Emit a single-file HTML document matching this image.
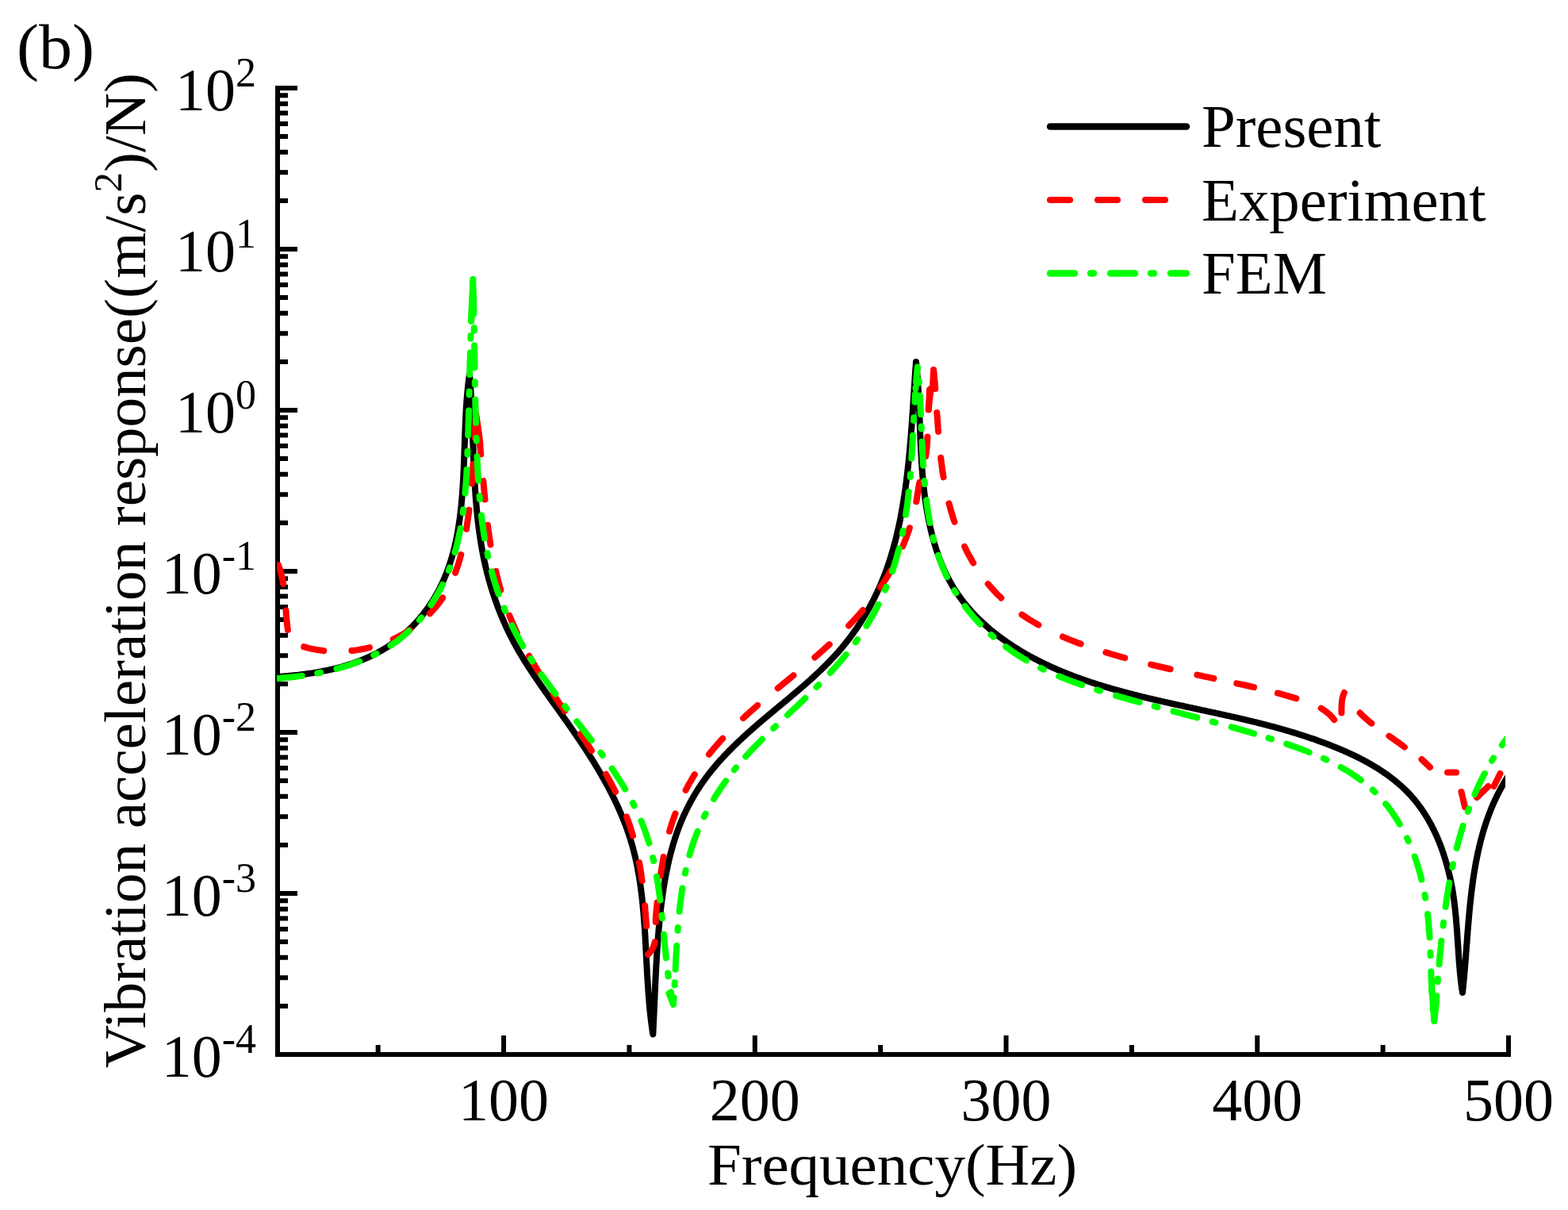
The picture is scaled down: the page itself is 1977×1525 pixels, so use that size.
<!DOCTYPE html>
<html><head><meta charset="utf-8"><title>FRF</title>
<style>html,body{margin:0;padding:0;background:#fff;overflow:hidden}svg{display:block}</style>
</head><body>
<svg width="1977" height="1525" viewBox="0 0 1977 1525">
<rect width="1977" height="1525" fill="#fff"/>
<path d="M350 108 V1329 H1905" fill="none" stroke="#000" stroke-width="6" stroke-linejoin="miter" stroke-linecap="butt"/>
<path d="M350 111.00H375M350 252.89H363M350 217.14H363M350 191.78H363M350 172.11H363M350 156.04H363M350 142.45H363M350 130.67H363M350 120.29H363M350 314.00H375M350 455.89H363M350 420.14H363M350 394.78H363M350 375.11H363M350 359.04H363M350 345.45H363M350 333.67H363M350 323.29H363M350 517.00H375M350 658.89H363M350 623.14H363M350 597.78H363M350 578.11H363M350 562.04H363M350 548.45H363M350 536.67H363M350 526.29H363M350 720.00H375M350 861.89H363M350 826.14H363M350 800.78H363M350 781.11H363M350 765.04H363M350 751.45H363M350 739.67H363M350 729.29H363M350 923.00H375M350 1064.89H363M350 1029.14H363M350 1003.78H363M350 984.11H363M350 968.04H363M350 954.45H363M350 942.67H363M350 932.29H363M350 1126.00H375M350 1267.89H363M350 1232.14H363M350 1206.78H363M350 1187.11H363M350 1171.04H363M350 1157.45H363M350 1145.67H363M350 1135.29H363M350 1329.00H375M635.06 1329V1305M951.80 1329V1305M1268.53 1329V1305M1585.27 1329V1305M1902.00 1329V1305M476.69 1329V1317M793.43 1329V1317M1110.16 1329V1317M1426.90 1329V1317M1743.63 1329V1317" fill="none" stroke="#000" stroke-width="6"/>
<text x="323" y="139.0" text-anchor="end" font-family="Liberation Serif, Times New Roman, serif" font-size="76">10<tspan font-size="52" dy="-30.5">2</tspan></text>
<text x="323" y="342.0" text-anchor="end" font-family="Liberation Serif, Times New Roman, serif" font-size="76">10<tspan font-size="52" dy="-30.5">1</tspan></text>
<text x="323" y="545.0" text-anchor="end" font-family="Liberation Serif, Times New Roman, serif" font-size="76">10<tspan font-size="52" dy="-30.5">0</tspan></text>
<text x="323" y="748.0" text-anchor="end" font-family="Liberation Serif, Times New Roman, serif" font-size="76">10<tspan font-size="52" dy="-30.5">-1</tspan></text>
<text x="323" y="951.0" text-anchor="end" font-family="Liberation Serif, Times New Roman, serif" font-size="76">10<tspan font-size="52" dy="-30.5">-2</tspan></text>
<text x="323" y="1154.0" text-anchor="end" font-family="Liberation Serif, Times New Roman, serif" font-size="76">10<tspan font-size="52" dy="-30.5">-3</tspan></text>
<text x="323" y="1357.0" text-anchor="end" font-family="Liberation Serif, Times New Roman, serif" font-size="76">10<tspan font-size="52" dy="-30.5">-4</tspan></text>
<text x="635.06" y="1412" text-anchor="middle" font-family="Liberation Serif, Times New Roman, serif" font-size="76">100</text>
<text x="951.80" y="1412" text-anchor="middle" font-family="Liberation Serif, Times New Roman, serif" font-size="76">200</text>
<text x="1268.53" y="1412" text-anchor="middle" font-family="Liberation Serif, Times New Roman, serif" font-size="76">300</text>
<text x="1585.27" y="1412" text-anchor="middle" font-family="Liberation Serif, Times New Roman, serif" font-size="76">400</text>
<text x="1902.00" y="1412" text-anchor="middle" font-family="Liberation Serif, Times New Roman, serif" font-size="76">500</text>
<text transform="translate(1125 1493) scale(1.027 1)" text-anchor="middle" font-family="Liberation Serif, Times New Roman, serif" font-size="75">Frequency(Hz)</text>
<text transform="translate(183 1346) rotate(-90)" x="0" y="0" font-family="Liberation Serif, Times New Roman, serif" font-size="75">Vibration acceleration response((m/s<tspan font-size="51" dy="-30">2</tspan><tspan dy="30">)/N)</tspan></text>
<text transform="translate(21 86) scale(1.038 1)" font-family="Liberation Serif, Times New Roman, serif" font-size="81">(b)</text>
<path d="M1324 159.5H1496" stroke="#000" stroke-width="8.5" stroke-linecap="round"/>
<path d="M1324 252H1500" stroke="#f00" stroke-width="8" stroke-linecap="round" stroke-dasharray="25 35"/>
<path d="M1324 344.6H1496" stroke="#0f0" stroke-width="8.5" stroke-linecap="round" stroke-dasharray="31 20 4 21"/>
<text transform="translate(1515 185) scale(1.018 1)" font-family="Liberation Serif, Times New Roman, serif" font-size="75.5">Present</text>
<text transform="translate(1515 277.8) scale(1.018 1)" font-family="Liberation Serif, Times New Roman, serif" font-size="75.5">Experiment</text>
<text transform="translate(1515 370.4) scale(1.018 1)" font-family="Liberation Serif, Times New Roman, serif" font-size="75.5">FEM</text>
<defs><clipPath id="pc"><rect x="349" y="100" width="1549" height="1232"/></clipPath></defs>
<g clip-path="url(#pc)" fill="none" stroke-width="8" stroke-linejoin="round">
<path d="M350.0 853.0L351.5 852.9L352.9 852.8L354.4 852.7L355.8 852.6L357.3 852.5L358.8 852.3L360.2 852.2L361.7 852.1L363.2 852.0L364.7 851.8L366.1 851.7L367.6 851.5L369.1 851.4L370.6 851.2L372.1 851.1L373.6 850.9L375.1 850.8L376.6 850.6L378.1 850.4L379.6 850.2L381.0 850.0L382.5 849.9L384.0 849.7L385.5 849.5L387.0 849.2L388.6 849.0L390.1 848.8L391.6 848.6L393.1 848.4L394.6 848.1L396.1 847.9L397.6 847.6L399.1 847.4L400.6 847.1L402.1 846.8L403.6 846.6L405.1 846.3L406.6 846.0L408.1 845.7L409.6 845.4L411.1 845.1L412.6 844.8L414.1 844.5L415.6 844.1L417.1 843.8L418.6 843.5L420.0 843.1L421.5 842.8L423.0 842.4L424.5 842.0L426.0 841.6L427.5 841.3L428.9 840.9L430.4 840.5L431.9 840.1L433.4 839.6L434.8 839.2L436.3 838.8L437.7 838.3L439.2 837.9L440.7 837.4L442.1 836.9L443.6 836.5L445.0 836.0L446.4 835.5L447.9 835.0L449.3 834.5L450.7 833.9L452.2 833.4L453.6 832.9L455.0 832.3L456.4 831.8L457.8 831.2L459.2 830.6L460.6 830.0L462.0 829.4L463.4 828.8L464.8 828.2L466.1 827.6L467.5 826.9L468.9 826.3L470.2 825.6L471.6 825.0L472.9 824.3L474.3 823.6L475.6 822.9L476.9 822.2L478.2 821.4L479.6 820.7L480.9 820.0L482.2 819.2L483.5 818.4L484.7 817.7L486.0 816.9L487.3 816.1L488.6 815.3L489.8 814.4L491.1 813.6L492.3 812.8L493.6 811.9L494.8 811.1L496.0 810.2L497.2 809.3L498.4 808.4L499.6 807.5L500.8 806.6L502.0 805.6L503.2 804.7L504.4 803.8L505.5 802.8L506.7 801.8L507.8 800.9L509.0 799.9L510.1 798.9L511.2 797.9L512.3 796.9L513.4 795.9L514.5 794.8L515.6 793.8L516.7 792.8L517.8 791.7L518.8 790.6L519.9 789.6L520.9 788.5L522.0 787.4L523.0 786.3L524.0 785.2L525.0 784.1L526.0 783.0L527.0 781.9L528.0 780.7L529.0 779.6L529.9 778.4L530.9 777.3L531.9 776.1L532.8 775.0L533.7 773.8L534.6 772.6L535.6 771.4L536.5 770.2L537.4 769.0L538.2 767.8L539.1 766.6L540.0 765.4L540.8 764.1L541.7 762.9L542.5 761.7L543.3 760.4L544.2 759.2L545.0 757.9L545.8 756.7L546.5 755.4L547.3 754.1L548.1 752.9L548.8 751.6L549.6 750.3L550.3 749.0L551.1 747.7L551.8 746.4L552.5 745.1L553.2 743.8L553.9 742.5L554.5 741.2L555.2 739.8L555.8 738.5L556.5 737.2L557.1 735.9L557.7 734.5L558.4 733.2L559.0 731.8L559.6 730.5L560.1 729.1L560.7 727.8L561.3 726.4L561.8 725.0L562.4 723.7L562.9 722.3L563.5 720.9L564.0 719.5L564.5 718.2L565.0 716.8L565.5 715.4L566.0 714.0L566.5 712.6L566.9 711.2L567.4 709.8L567.8 708.4L568.3 707.0L568.7 705.6L569.1 704.1L569.6 702.7L570.0 701.3L570.4 699.9L570.8 698.4L571.2 697.0L571.6 695.6L571.9 694.1L572.3 692.7L572.7 691.2L573.0 689.8L573.4 688.4L573.7 686.9L574.0 685.4L574.4 684.0L574.7 682.5L575.0 681.1L575.3 679.6L575.6 678.1L575.9 676.7L576.2 675.2L576.5 673.7L576.7 672.2L577.0 670.8L577.3 669.3L577.5 667.8L577.8 666.3L578.0 664.8L578.2 663.3L578.5 661.8L578.7 660.3L578.9 658.8L579.1 657.3L579.4 655.8L579.6 654.3L579.8 652.8L580.0 651.3L580.2 649.8L580.3 648.3L580.5 646.8L580.7 645.3L580.9 643.8L581.0 642.3L581.2 640.8L581.4 639.2L581.5 637.7L581.7 636.2L581.8 634.7L582.0 633.2L582.1 631.6L582.2 630.1L582.4 628.6L582.5 627.1L582.6 625.5L582.8 624.0L582.9 622.5L583.0 620.9L583.1 619.4L583.2 617.9L583.3 616.3L583.4 614.8L583.5 613.3L583.6 611.7L583.7 610.2L583.8 608.7L583.9 607.1L584.0 605.6L584.1 604.0L584.1 602.5L584.2 601.0L584.3 599.4L584.4 597.9L584.4 596.3L584.5 594.8L584.6 593.3L584.7 591.7L584.7 590.2L584.8 588.6L584.8 587.1L584.9 585.6L585.0 584.0L585.0 582.5L585.1 580.9L585.1 579.4L585.2 577.9L585.3 576.3L585.3 574.8L585.4 573.2L585.4 571.7L585.5 570.2L585.5 568.6L585.6 567.1L585.6 565.5L585.7 564.0L585.7 562.5L585.8 560.9L585.8 559.4L585.9 557.9L585.9 556.3L586.0 554.8L586.0 553.3L586.1 551.7L586.2 550.2L586.2 548.7L586.3 547.1L586.3 545.6L586.4 544.1L586.4 542.6L586.5 541.0L586.6 539.5L586.6 538.0L586.7 536.5L586.7 535.0L586.8 533.4L586.9 531.9L586.9 530.4L587.0 528.9L587.1 527.4L587.2 525.9L587.2 524.4L587.3 522.9L587.4 521.4L587.5 519.9L587.6 518.4L587.6 516.9L587.7 515.4L587.8 513.9L587.9 512.4L588.0 510.9L588.1 509.4L588.2 507.9L588.3 506.4L588.4 504.9L588.6 503.5L588.7 502.0L588.8 500.5L588.9 499.0L589.0 497.5L589.2 496.1L589.3 494.6L589.4 493.1L589.6 491.7L589.7 490.2L589.9 488.8L590.0 487.3L590.2 485.9L590.3 484.4L590.5 483.0L590.7 481.5L590.9 480.1L591.0 478.6L591.2 477.2L591.4 475.8L591.6 474.4L591.8 472.9L592.0 471.5L592.1 473.0L592.2 474.4L592.4 475.9L592.5 477.4L592.6 478.8L592.7 480.3L592.8 481.8L592.9 483.3L593.0 484.7L593.1 486.2L593.2 487.7L593.3 489.2L593.4 490.6L593.5 492.1L593.6 493.6L593.7 495.1L593.8 496.6L593.8 498.1L593.9 499.5L594.0 501.0L594.1 502.5L594.2 504.0L594.2 505.5L594.3 507.0L594.4 508.5L594.5 510.0L594.5 511.5L594.6 513.0L594.7 514.5L594.7 515.9L594.8 517.4L594.9 518.9L594.9 520.4L595.0 521.9L595.1 523.4L595.1 524.9L595.2 526.4L595.2 527.9L595.3 529.4L595.4 531.0L595.4 532.5L595.5 534.0L595.5 535.5L595.6 537.0L595.6 538.5L595.7 540.0L595.8 541.5L595.8 543.0L595.9 544.5L595.9 546.0L596.0 547.5L596.0 549.0L596.1 550.5L596.1 552.1L596.2 553.6L596.2 555.1L596.3 556.6L596.3 558.1L596.4 559.6L596.5 561.1L596.5 562.6L596.6 564.2L596.6 565.7L596.7 567.2L596.7 568.7L596.8 570.2L596.8 571.7L596.9 573.2L597.0 574.8L597.0 576.3L597.1 577.8L597.1 579.3L597.2 580.8L597.3 582.3L597.3 583.8L597.4 585.4L597.5 586.9L597.5 588.4L597.6 589.9L597.7 591.4L597.7 592.9L597.8 594.5L597.9 596.0L598.0 597.5L598.0 599.0L598.1 600.5L598.2 602.0L598.3 603.6L598.4 605.1L598.4 606.6L598.5 608.1L598.6 609.6L598.7 611.1L598.8 612.6L598.9 614.2L599.0 615.7L599.1 617.2L599.2 618.7L599.3 620.2L599.4 621.7L599.5 623.2L599.6 624.7L599.7 626.3L599.8 627.8L600.0 629.3L600.1 630.8L600.2 632.3L600.3 633.8L600.5 635.3L600.6 636.8L600.7 638.3L600.9 639.8L601.0 641.3L601.1 642.9L601.3 644.4L601.4 645.9L601.6 647.4L601.7 648.9L601.9 650.4L602.0 651.9L602.2 653.4L602.4 654.9L602.5 656.4L602.7 657.9L602.9 659.4L603.1 660.9L603.3 662.4L603.4 663.9L603.6 665.4L603.8 666.9L604.0 668.3L604.2 669.8L604.4 671.3L604.6 672.8L604.9 674.3L605.1 675.8L605.3 677.3L605.5 678.8L605.8 680.3L606.0 681.7L606.2 683.2L606.5 684.7L606.7 686.2L607.0 687.7L607.2 689.2L607.5 690.6L607.7 692.1L608.0 693.6L608.3 695.1L608.6 696.5L608.8 698.0L609.1 699.5L609.4 701.0L609.7 702.4L610.0 703.9L610.3 705.4L610.6 706.8L611.0 708.3L611.3 709.8L611.6 711.2L611.9 712.7L612.3 714.1L612.6 715.6L613.0 717.0L613.3 718.5L613.7 720.0L614.1 721.4L614.4 722.9L614.8 724.3L615.2 725.8L615.6 727.2L616.0 728.6L616.3 730.1L616.7 731.5L617.2 733.0L617.6 734.4L618.0 735.8L618.4 737.3L618.8 738.7L619.3 740.1L619.7 741.6L620.1 743.0L620.6 744.4L621.0 745.8L621.5 747.3L622.0 748.7L622.4 750.1L622.9 751.5L623.4 752.9L623.9 754.3L624.4 755.8L624.9 757.2L625.4 758.6L625.9 760.0L626.4 761.4L626.9 762.8L627.4 764.2L627.9 765.6L628.5 767.0L629.0 768.4L629.6 769.7L630.1 771.1L630.7 772.5L631.2 773.9L631.8 775.3L632.4 776.7L632.9 778.0L633.5 779.4L634.1 780.8L634.7 782.1L635.3 783.5L635.9 784.9L636.5 786.2L637.1 787.6L637.7 789.0L638.3 790.3L639.0 791.7L639.6 793.0L640.3 794.4L640.9 795.7L641.5 797.0L642.2 798.4L642.9 799.7L643.5 801.1L644.2 802.4L644.9 803.7L645.6 805.0L646.3 806.4L646.9 807.7L647.6 809.0L648.3 810.3L649.1 811.6L649.8 812.9L650.5 814.3L651.2 815.6L652.0 816.9L652.7 818.2L653.4 819.5L654.2 820.8L654.9 822.0L655.7 823.3L656.4 824.6L657.2 825.9L658.0 827.2L658.8 828.5L659.5 829.7L660.3 831.0L661.1 832.3L661.9 833.6L662.7 834.8L663.5 836.1L664.3 837.4L665.1 838.6L665.9 839.9L666.7 841.2L667.5 842.4L668.4 843.7L669.2 844.9L670.0 846.2L670.8 847.4L671.7 848.7L672.5 849.9L673.3 851.2L674.2 852.4L675.0 853.7L675.9 854.9L676.7 856.2L677.6 857.4L678.4 858.6L679.3 859.9L680.1 861.1L681.0 862.4L681.9 863.6L682.7 864.8L683.6 866.1L684.5 867.3L685.3 868.5L686.2 869.8L687.1 871.0L687.9 872.2L688.8 873.5L689.7 874.7L690.6 875.9L691.4 877.2L692.3 878.4L693.2 879.6L694.1 880.9L695.0 882.1L695.8 883.3L696.7 884.5L697.6 885.8L698.5 887.0L699.4 888.2L700.2 889.5L701.1 890.7L702.0 891.9L702.9 893.2L703.8 894.4L704.7 895.6L705.5 896.8L706.4 898.1L707.3 899.3L708.2 900.5L709.1 901.8L709.9 903.0L710.8 904.3L711.7 905.5L712.6 906.7L713.4 908.0L714.3 909.2L715.2 910.4L716.1 911.7L716.9 912.9L717.8 914.2L718.7 915.4L719.5 916.6L720.4 917.9L721.3 919.1L722.1 920.4L723.0 921.6L723.8 922.9L724.7 924.1L725.6 925.4L726.4 926.6L727.3 927.9L728.1 929.1L729.0 930.4L729.8 931.6L730.7 932.9L731.5 934.1L732.4 935.4L733.2 936.6L734.0 937.9L734.9 939.2L735.7 940.4L736.5 941.7L737.4 942.9L738.2 944.2L739.0 945.5L739.8 946.7L740.6 948.0L741.5 949.3L742.3 950.5L743.1 951.8L743.9 953.1L744.7 954.3L745.5 955.6L746.3 956.9L747.1 958.2L747.9 959.4L748.7 960.7L749.5 962.0L750.3 963.3L751.0 964.6L751.8 965.8L752.6 967.1L753.4 968.4L754.1 969.7L754.9 971.0L755.7 972.3L756.4 973.6L757.2 974.9L757.9 976.2L758.7 977.5L759.4 978.8L760.2 980.1L760.9 981.4L761.6 982.7L762.4 984.0L763.1 985.3L763.8 986.6L764.5 987.9L765.2 989.2L766.0 990.5L766.7 991.8L767.4 993.1L768.1 994.5L768.8 995.8L769.4 997.1L770.1 998.4L770.8 999.7L771.5 1001.1L772.1 1002.4L772.8 1003.7L773.5 1005.1L774.1 1006.4L774.8 1007.7L775.4 1009.1L776.1 1010.4L776.7 1011.7L777.3 1013.1L778.0 1014.4L778.6 1015.8L779.2 1017.1L779.8 1018.5L780.4 1019.8L781.0 1021.2L781.6 1022.5L782.2 1023.9L782.8 1025.3L783.4 1026.6L783.9 1028.0L784.5 1029.4L785.1 1030.7L785.6 1032.1L786.2 1033.5L786.7 1034.8L787.3 1036.2L787.8 1037.6L788.3 1039.0L788.9 1040.4L789.4 1041.7L789.9 1043.1L790.4 1044.5L790.9 1045.9L791.4 1047.3L791.9 1048.7L792.3 1050.1L792.8 1051.5L793.3 1052.9L793.7 1054.3L794.2 1055.7L794.6 1057.1L795.1 1058.6L795.5 1060.0L795.9 1061.4L796.4 1062.8L796.8 1064.2L797.2 1065.7L797.6 1067.1L798.0 1068.5L798.4 1070.0L798.7 1071.4L799.1 1072.8L799.5 1074.3L799.8 1075.7L800.2 1077.2L800.5 1078.6L800.9 1080.1L801.2 1081.5L801.5 1083.0L801.9 1084.4L802.2 1085.9L802.5 1087.4L802.8 1088.8L803.1 1090.3L803.4 1091.7L803.7 1093.2L804.0 1094.7L804.2 1096.2L804.5 1097.6L804.8 1099.1L805.1 1100.6L805.3 1102.1L805.6 1103.5L805.8 1105.0L806.1 1106.5L806.3 1108.0L806.5 1109.5L806.8 1111.0L807.0 1112.5L807.2 1114.0L807.4 1115.5L807.6 1116.9L807.8 1118.4L808.0 1119.9L808.2 1121.4L808.4 1122.9L808.6 1124.4L808.8 1125.9L809.0 1127.5L809.2 1129.0L809.3 1130.5L809.5 1132.0L809.7 1133.5L809.8 1135.0L810.0 1136.5L810.1 1138.0L810.3 1139.5L810.5 1141.0L810.6 1142.6L810.7 1144.1L810.9 1145.6L811.0 1147.1L811.2 1148.6L811.3 1150.1L811.4 1151.7L811.5 1153.2L811.7 1154.7L811.8 1156.2L811.9 1157.8L812.0 1159.3L812.1 1160.8L812.3 1162.3L812.4 1163.9L812.5 1165.4L812.6 1166.9L812.7 1168.4L812.8 1170.0L812.9 1171.5L813.0 1173.0L813.1 1174.5L813.2 1176.1L813.3 1177.6L813.4 1179.1L813.5 1180.6L813.6 1182.2L813.6 1183.7L813.7 1185.2L813.8 1186.8L813.9 1188.3L814.0 1189.8L814.1 1191.3L814.2 1192.9L814.2 1194.4L814.3 1195.9L814.4 1197.5L814.5 1199.0L814.6 1200.5L814.6 1202.0L814.7 1203.6L814.8 1205.1L814.9 1206.6L815.0 1208.1L815.0 1209.7L815.1 1211.2L815.2 1212.7L815.3 1214.2L815.4 1215.8L815.4 1217.3L815.5 1218.8L815.6 1220.3L815.7 1221.8L815.8 1223.4L815.9 1224.9L815.9 1226.4L816.0 1227.9L816.1 1229.4L816.2 1231.0L816.3 1232.5L816.4 1234.0L816.5 1235.5L816.6 1237.0L816.7 1238.5L816.8 1240.0L816.9 1241.5L817.0 1243.0L817.1 1244.5L817.2 1246.1L817.3 1247.6L817.4 1249.1L817.5 1250.6L817.6 1252.1L817.7 1253.6L817.8 1255.1L817.9 1256.6L818.1 1258.0L818.2 1259.5L818.3 1261.0L818.4 1262.5L818.6 1264.0L818.7 1265.5L818.8 1267.0L819.0 1268.5L819.1 1269.9L819.2 1271.4L819.4 1272.9L819.5 1274.4L819.7 1275.9L819.8 1277.3L820.0 1278.8L820.2 1280.3L820.3 1281.7L820.5 1283.2L820.7 1284.7L820.9 1286.1L821.0 1287.6L821.2 1289.0L821.4 1290.5L821.6 1292.0L821.8 1293.4L822.0 1294.9L822.2 1296.3L822.4 1297.7L822.6 1299.2L822.8 1300.6L823.1 1302.1L823.3 1303.5L823.4 1302.0L823.5 1300.5L823.5 1299.0L823.6 1297.5L823.7 1296.0L823.8 1294.5L823.8 1293.1L823.9 1291.6L824.0 1290.1L824.0 1288.6L824.1 1287.1L824.2 1285.6L824.3 1284.1L824.3 1282.6L824.4 1281.1L824.5 1279.6L824.5 1278.1L824.6 1276.6L824.7 1275.1L824.7 1273.6L824.8 1272.2L824.9 1270.7L824.9 1269.2L825.0 1267.7L825.1 1266.2L825.1 1264.7L825.2 1263.2L825.3 1261.7L825.3 1260.2L825.4 1258.7L825.5 1257.2L825.5 1255.7L825.6 1254.2L825.7 1252.7L825.7 1251.2L825.8 1249.7L825.9 1248.2L825.9 1246.7L826.0 1245.2L826.1 1243.7L826.1 1242.3L826.2 1240.8L826.3 1239.3L826.3 1237.8L826.4 1236.3L826.5 1234.8L826.6 1233.3L826.6 1231.8L826.7 1230.3L826.8 1228.8L826.9 1227.3L826.9 1225.8L827.0 1224.3L827.1 1222.8L827.2 1221.3L827.3 1219.8L827.3 1218.3L827.4 1216.8L827.5 1215.3L827.6 1213.8L827.7 1212.3L827.8 1210.8L827.9 1209.3L827.9 1207.8L828.0 1206.3L828.1 1204.8L828.2 1203.3L828.3 1201.8L828.4 1200.3L828.5 1198.8L828.6 1197.3L828.7 1195.8L828.8 1194.3L828.9 1192.8L829.0 1191.3L829.1 1189.8L829.2 1188.3L829.3 1186.7L829.5 1185.2L829.6 1183.7L829.7 1182.2L829.8 1180.7L829.9 1179.2L830.0 1177.7L830.2 1176.2L830.3 1174.7L830.4 1173.2L830.6 1171.7L830.7 1170.2L830.8 1168.7L831.0 1167.2L831.1 1165.7L831.2 1164.1L831.4 1162.6L831.5 1161.1L831.7 1159.6L831.8 1158.1L832.0 1156.6L832.1 1155.1L832.3 1153.6L832.4 1152.1L832.6 1150.6L832.8 1149.0L832.9 1147.5L833.1 1146.0L833.3 1144.5L833.5 1143.0L833.6 1141.5L833.8 1140.0L834.0 1138.5L834.2 1137.0L834.4 1135.4L834.6 1133.9L834.8 1132.4L835.0 1130.9L835.2 1129.4L835.4 1127.9L835.6 1126.4L835.8 1124.9L836.1 1123.4L836.3 1121.9L836.5 1120.4L836.7 1118.9L837.0 1117.4L837.2 1115.9L837.5 1114.4L837.7 1112.9L838.0 1111.4L838.2 1109.9L838.5 1108.4L838.8 1106.9L839.0 1105.4L839.3 1103.9L839.6 1102.4L839.9 1100.9L840.2 1099.4L840.5 1098.0L840.8 1096.5L841.1 1095.0L841.4 1093.5L841.7 1092.0L842.0 1090.5L842.3 1089.1L842.7 1087.6L843.0 1086.1L843.3 1084.7L843.7 1083.2L844.0 1081.7L844.4 1080.3L844.8 1078.8L845.1 1077.3L845.5 1075.9L845.9 1074.4L846.3 1073.0L846.7 1071.5L847.1 1070.1L847.5 1068.6L847.9 1067.2L848.3 1065.7L848.7 1064.3L849.1 1062.9L849.6 1061.4L850.0 1060.0L850.5 1058.6L850.9 1057.1L851.4 1055.7L851.9 1054.3L852.3 1052.9L852.8 1051.5L853.3 1050.1L853.8 1048.6L854.3 1047.2L854.8 1045.8L855.3 1044.4L855.9 1043.0L856.4 1041.7L856.9 1040.3L857.5 1038.9L858.0 1037.5L858.6 1036.1L859.2 1034.7L859.7 1033.4L860.3 1032.0L860.9 1030.6L861.5 1029.3L862.1 1027.9L862.7 1026.6L863.4 1025.2L864.0 1023.9L864.6 1022.5L865.3 1021.2L865.9 1019.9L866.6 1018.5L867.2 1017.2L867.9 1015.9L868.6 1014.6L869.3 1013.3L870.0 1011.9L870.7 1010.6L871.4 1009.3L872.1 1008.0L872.8 1006.8L873.6 1005.5L874.3 1004.2L875.1 1002.9L875.8 1001.6L876.6 1000.4L877.3 999.1L878.1 997.8L878.9 996.6L879.7 995.3L880.5 994.1L881.3 992.8L882.1 991.6L882.9 990.4L883.7 989.1L884.6 987.9L885.4 986.7L886.3 985.5L887.1 984.3L888.0 983.1L888.9 981.9L889.7 980.7L890.6 979.5L891.5 978.3L892.4 977.1L893.3 975.9L894.2 974.8L895.1 973.6L896.1 972.4L897.0 971.3L897.9 970.1L898.9 969.0L899.8 967.8L900.8 966.7L901.7 965.6L902.7 964.4L903.7 963.3L904.6 962.2L905.6 961.0L906.6 959.9L907.6 958.8L908.6 957.7L909.6 956.6L910.6 955.5L911.6 954.4L912.6 953.3L913.7 952.2L914.7 951.1L915.7 950.0L916.8 949.0L917.8 947.9L918.8 946.8L919.9 945.7L921.0 944.7L922.0 943.6L923.1 942.5L924.1 941.5L925.2 940.4L926.3 939.4L927.4 938.3L928.5 937.3L929.5 936.2L930.6 935.2L931.7 934.2L932.8 933.1L933.9 932.1L935.0 931.1L936.1 930.0L937.2 929.0L938.4 928.0L939.5 927.0L940.6 925.9L941.7 924.9L942.8 923.9L944.0 922.9L945.1 921.9L946.2 920.9L947.4 919.9L948.5 918.9L949.6 917.9L950.8 916.9L951.9 915.9L953.1 914.9L954.2 913.9L955.4 912.9L956.5 911.9L957.7 910.9L958.8 909.9L960.0 908.9L961.1 908.0L962.3 907.0L963.5 906.0L964.6 905.0L965.8 904.0L966.9 903.1L968.1 902.1L969.3 901.1L970.4 900.1L971.6 899.2L972.8 898.2L973.9 897.2L975.1 896.2L976.3 895.3L977.4 894.3L978.6 893.3L979.8 892.4L980.9 891.4L982.1 890.4L983.3 889.4L984.5 888.5L985.6 887.5L986.8 886.5L988.0 885.6L989.1 884.6L990.3 883.6L991.5 882.7L992.6 881.7L993.8 880.7L995.0 879.7L996.1 878.8L997.3 877.8L998.4 876.8L999.6 875.8L1000.8 874.9L1001.9 873.9L1003.1 872.9L1004.2 871.9L1005.4 871.0L1006.5 870.0L1007.7 869.0L1008.8 868.0L1010.0 867.0L1011.1 866.0L1012.3 865.0L1013.4 864.1L1014.5 863.1L1015.7 862.1L1016.8 861.1L1017.9 860.1L1019.1 859.1L1020.2 858.1L1021.3 857.1L1022.4 856.1L1023.6 855.0L1024.7 854.0L1025.8 853.0L1026.9 852.0L1028.0 851.0L1029.1 850.0L1030.2 848.9L1031.3 847.9L1032.4 846.9L1033.5 845.9L1034.6 844.8L1035.6 843.8L1036.7 842.7L1037.8 841.7L1038.9 840.6L1039.9 839.6L1041.0 838.5L1042.0 837.5L1043.1 836.4L1044.1 835.4L1045.2 834.3L1046.2 833.2L1047.3 832.1L1048.3 831.1L1049.3 830.0L1050.3 828.9L1051.4 827.8L1052.4 826.7L1053.4 825.6L1054.4 824.5L1055.4 823.4L1056.4 822.3L1057.4 821.2L1058.3 820.0L1059.3 818.9L1060.3 817.8L1061.2 816.6L1062.2 815.5L1063.1 814.3L1064.1 813.2L1065.0 812.0L1066.0 810.9L1066.9 809.7L1067.8 808.5L1068.7 807.4L1069.7 806.2L1070.6 805.0L1071.5 803.8L1072.4 802.6L1073.2 801.4L1074.1 800.2L1075.0 799.0L1075.9 797.8L1076.7 796.6L1077.6 795.4L1078.5 794.2L1079.3 793.0L1080.2 791.7L1081.0 790.5L1081.8 789.3L1082.6 788.0L1083.5 786.8L1084.3 785.5L1085.1 784.3L1085.9 783.0L1086.7 781.7L1087.5 780.5L1088.3 779.2L1089.0 777.9L1089.8 776.7L1090.6 775.4L1091.3 774.1L1092.1 772.8L1092.9 771.5L1093.6 770.2L1094.3 768.9L1095.1 767.6L1095.8 766.3L1096.5 765.0L1097.2 763.7L1097.9 762.4L1098.6 761.1L1099.3 759.7L1100.0 758.4L1100.7 757.1L1101.4 755.8L1102.1 754.4L1102.7 753.1L1103.4 751.7L1104.1 750.4L1104.7 749.1L1105.3 747.7L1106.0 746.3L1106.6 745.0L1107.2 743.6L1107.9 742.3L1108.5 740.9L1109.1 739.5L1109.7 738.2L1110.3 736.8L1110.9 735.4L1111.5 734.0L1112.0 732.6L1112.6 731.3L1113.2 729.9L1113.7 728.5L1114.3 727.1L1114.8 725.7L1115.4 724.3L1115.9 722.9L1116.4 721.5L1117.0 720.1L1117.5 718.7L1118.0 717.3L1118.5 715.8L1119.0 714.4L1119.5 713.0L1120.0 711.6L1120.5 710.2L1120.9 708.7L1121.4 707.3L1121.9 705.9L1122.3 704.4L1122.8 703.0L1123.2 701.6L1123.7 700.1L1124.1 698.7L1124.5 697.2L1125.0 695.8L1125.4 694.4L1125.8 692.9L1126.2 691.5L1126.6 690.0L1127.0 688.6L1127.4 687.1L1127.8 685.6L1128.2 684.2L1128.6 682.7L1129.0 681.3L1129.3 679.8L1129.7 678.3L1130.1 676.9L1130.4 675.4L1130.8 673.9L1131.1 672.5L1131.5 671.0L1131.8 669.5L1132.1 668.1L1132.5 666.6L1132.8 665.1L1133.1 663.6L1133.4 662.2L1133.8 660.7L1134.1 659.2L1134.4 657.7L1134.7 656.2L1135.0 654.8L1135.3 653.3L1135.6 651.8L1135.8 650.3L1136.1 648.8L1136.4 647.3L1136.7 645.8L1136.9 644.4L1137.2 642.9L1137.5 641.4L1137.7 639.9L1138.0 638.4L1138.2 636.9L1138.5 635.4L1138.7 633.9L1139.0 632.4L1139.2 630.9L1139.5 629.5L1139.7 628.0L1139.9 626.5L1140.2 625.0L1140.4 623.5L1140.6 622.0L1140.8 620.5L1141.0 619.0L1141.3 617.5L1141.5 616.0L1141.7 614.5L1141.9 613.0L1142.1 611.5L1142.3 610.0L1142.5 608.6L1142.7 607.1L1142.9 605.6L1143.0 604.1L1143.2 602.6L1143.4 601.1L1143.6 599.6L1143.8 598.1L1144.0 596.6L1144.1 595.1L1144.3 593.6L1144.5 592.1L1144.6 590.6L1144.8 589.1L1145.0 587.6L1145.1 586.1L1145.3 584.7L1145.4 583.2L1145.6 581.7L1145.7 580.2L1145.9 578.7L1146.0 577.2L1146.2 575.7L1146.3 574.2L1146.5 572.7L1146.6 571.2L1146.8 569.7L1146.9 568.2L1147.0 566.7L1147.2 565.2L1147.3 563.7L1147.4 562.2L1147.6 560.7L1147.7 559.2L1147.8 557.7L1147.9 556.3L1148.1 554.8L1148.2 553.3L1148.3 551.8L1148.4 550.3L1148.6 548.8L1148.7 547.3L1148.8 545.8L1148.9 544.3L1149.0 542.8L1149.1 541.3L1149.3 539.8L1149.4 538.3L1149.5 536.8L1149.6 535.3L1149.7 533.8L1149.8 532.3L1149.9 530.8L1150.0 529.3L1150.1 527.8L1150.2 526.3L1150.3 524.8L1150.4 523.3L1150.5 521.9L1150.6 520.4L1150.7 518.9L1150.8 517.4L1150.9 515.9L1151.0 514.4L1151.1 512.9L1151.2 511.4L1151.3 509.9L1151.4 508.4L1151.5 506.9L1151.6 505.4L1151.7 503.9L1151.8 502.4L1151.9 500.9L1152.0 499.4L1152.1 497.9L1152.2 496.4L1152.3 494.9L1152.4 493.4L1152.5 491.9L1152.6 490.4L1152.7 488.9L1152.8 487.4L1152.9 485.9L1153.0 484.4L1153.1 482.9L1153.2 481.4L1153.3 480.0L1153.4 478.5L1153.5 477.0L1153.6 475.5L1153.7 474.0L1153.8 472.5L1153.9 471.0L1154.0 469.5L1154.1 468.0L1154.2 466.5L1154.3 465.0L1154.5 463.5L1154.6 462.0L1154.7 460.5L1154.8 459.0L1154.9 457.5L1155.0 456.0L1155.2 457.5L1155.3 459.0L1155.5 460.5L1155.6 462.0L1155.7 463.5L1155.9 465.0L1156.0 466.5L1156.2 468.0L1156.3 469.5L1156.4 471.1L1156.5 472.6L1156.6 474.1L1156.8 475.6L1156.9 477.1L1157.0 478.6L1157.1 480.1L1157.2 481.6L1157.3 483.1L1157.4 484.6L1157.5 486.1L1157.6 487.6L1157.7 489.1L1157.8 490.6L1157.9 492.1L1157.9 493.6L1158.0 495.1L1158.1 496.6L1158.2 498.1L1158.3 499.6L1158.3 501.1L1158.4 502.6L1158.5 504.1L1158.6 505.5L1158.6 507.0L1158.7 508.5L1158.8 510.0L1158.8 511.5L1158.9 513.0L1159.0 514.5L1159.0 516.0L1159.1 517.5L1159.1 519.0L1159.2 520.5L1159.3 522.0L1159.3 523.5L1159.4 525.0L1159.4 526.5L1159.5 528.0L1159.6 529.5L1159.6 531.0L1159.7 532.5L1159.7 533.9L1159.8 535.4L1159.8 536.9L1159.9 538.4L1160.0 539.9L1160.0 541.4L1160.1 542.9L1160.1 544.4L1160.2 545.9L1160.2 547.4L1160.3 548.9L1160.4 550.4L1160.4 551.9L1160.5 553.4L1160.5 554.8L1160.6 556.3L1160.7 557.8L1160.7 559.3L1160.8 560.8L1160.9 562.3L1160.9 563.8L1161.0 565.3L1161.1 566.8L1161.2 568.3L1161.2 569.8L1161.3 571.3L1161.4 572.8L1161.5 574.2L1161.6 575.7L1161.7 577.2L1161.7 578.7L1161.8 580.2L1161.9 581.7L1162.0 583.2L1162.1 584.7L1162.2 586.2L1162.3 587.7L1162.4 589.2L1162.5 590.7L1162.6 592.2L1162.8 593.6L1162.9 595.1L1163.0 596.6L1163.1 598.1L1163.2 599.6L1163.4 601.1L1163.5 602.6L1163.6 604.1L1163.8 605.6L1163.9 607.1L1164.1 608.6L1164.2 610.1L1164.4 611.6L1164.5 613.1L1164.7 614.6L1164.9 616.1L1165.0 617.5L1165.2 619.0L1165.4 620.5L1165.6 622.0L1165.8 623.5L1165.9 625.0L1166.1 626.5L1166.3 628.0L1166.5 629.5L1166.8 631.0L1167.0 632.5L1167.2 634.0L1167.4 635.5L1167.6 637.0L1167.9 638.5L1168.1 640.0L1168.4 641.5L1168.6 643.0L1168.9 644.5L1169.1 646.0L1169.4 647.5L1169.7 649.0L1170.0 650.5L1170.2 652.0L1170.5 653.5L1170.8 655.0L1171.1 656.5L1171.4 658.0L1171.7 659.5L1172.1 661.0L1172.4 662.5L1172.7 664.0L1173.1 665.4L1173.4 666.9L1173.8 668.4L1174.1 669.9L1174.5 671.4L1174.9 672.9L1175.2 674.4L1175.6 675.8L1176.0 677.3L1176.4 678.8L1176.8 680.3L1177.2 681.7L1177.7 683.2L1178.1 684.7L1178.5 686.1L1179.0 687.6L1179.4 689.0L1179.9 690.5L1180.3 691.9L1180.8 693.4L1181.3 694.8L1181.8 696.3L1182.3 697.7L1182.8 699.1L1183.3 700.6L1183.8 702.0L1184.3 703.4L1184.8 704.8L1185.4 706.2L1185.9 707.6L1186.5 709.0L1187.1 710.4L1187.6 711.8L1188.2 713.2L1188.8 714.6L1189.4 716.0L1190.0 717.4L1190.6 718.7L1191.3 720.1L1191.9 721.5L1192.5 722.8L1193.2 724.2L1193.9 725.5L1194.5 726.8L1195.2 728.2L1195.9 729.5L1196.6 730.8L1197.3 732.1L1198.0 733.4L1198.8 734.7L1199.5 736.0L1200.2 737.3L1201.0 738.6L1201.8 739.9L1202.5 741.1L1203.3 742.4L1204.1 743.6L1204.9 744.9L1205.7 746.1L1206.6 747.3L1207.4 748.6L1208.2 749.8L1209.1 751.0L1209.9 752.2L1210.8 753.4L1211.7 754.6L1212.6 755.8L1213.5 757.0L1214.4 758.1L1215.3 759.3L1216.2 760.5L1217.1 761.6L1218.1 762.7L1219.0 763.9L1220.0 765.0L1220.9 766.1L1221.9 767.3L1222.9 768.4L1223.8 769.5L1224.8 770.6L1225.8 771.7L1226.8 772.8L1227.8 773.8L1228.9 774.9L1229.9 776.0L1230.9 777.1L1232.0 778.1L1233.0 779.2L1234.1 780.2L1235.1 781.2L1236.2 782.3L1237.3 783.3L1238.4 784.3L1239.5 785.3L1240.6 786.3L1241.7 787.3L1242.8 788.3L1243.9 789.3L1245.0 790.3L1246.2 791.3L1247.3 792.2L1248.4 793.2L1249.6 794.2L1250.7 795.1L1251.9 796.1L1253.1 797.0L1254.2 797.9L1255.4 798.9L1256.6 799.8L1257.8 800.7L1259.0 801.6L1260.2 802.5L1261.4 803.4L1262.6 804.3L1263.8 805.2L1265.0 806.0L1266.2 806.9L1267.5 807.8L1268.7 808.6L1269.9 809.5L1271.2 810.4L1272.4 811.2L1273.7 812.0L1274.9 812.9L1276.2 813.7L1277.4 814.5L1278.7 815.3L1280.0 816.1L1281.3 816.9L1282.5 817.7L1283.8 818.5L1285.1 819.3L1286.4 820.1L1287.7 820.9L1289.0 821.6L1290.3 822.4L1291.6 823.2L1292.9 823.9L1294.2 824.7L1295.5 825.4L1296.8 826.1L1298.2 826.9L1299.5 827.6L1300.8 828.3L1302.1 829.0L1303.5 829.7L1304.8 830.4L1306.2 831.1L1307.5 831.8L1308.8 832.5L1310.2 833.2L1311.5 833.9L1312.9 834.5L1314.2 835.2L1315.6 835.9L1316.9 836.5L1318.3 837.2L1319.7 837.8L1321.0 838.5L1322.4 839.1L1323.8 839.7L1325.1 840.4L1326.5 841.0L1327.9 841.6L1329.3 842.2L1330.7 842.8L1332.0 843.4L1333.4 844.0L1334.8 844.6L1336.2 845.2L1337.6 845.8L1339.0 846.4L1340.4 846.9L1341.8 847.5L1343.2 848.1L1344.6 848.6L1346.0 849.2L1347.4 849.7L1348.8 850.3L1350.2 850.8L1351.6 851.4L1353.0 851.9L1354.4 852.5L1355.8 853.0L1357.3 853.5L1358.7 854.0L1360.1 854.5L1361.5 855.1L1362.9 855.6L1364.4 856.1L1365.8 856.6L1367.2 857.1L1368.6 857.6L1370.1 858.0L1371.5 858.5L1372.9 859.0L1374.4 859.5L1375.8 860.0L1377.2 860.4L1378.7 860.9L1380.1 861.4L1381.5 861.8L1383.0 862.3L1384.4 862.8L1385.9 863.2L1387.3 863.7L1388.8 864.1L1390.2 864.5L1391.7 865.0L1393.1 865.4L1394.6 865.9L1396.0 866.3L1397.5 866.7L1398.9 867.1L1400.4 867.6L1401.8 868.0L1403.3 868.4L1404.7 868.8L1406.2 869.2L1407.6 869.6L1409.1 870.0L1410.5 870.4L1412.0 870.8L1413.5 871.2L1414.9 871.6L1416.4 872.0L1417.8 872.4L1419.3 872.8L1420.8 873.2L1422.2 873.6L1423.7 874.0L1425.2 874.3L1426.6 874.7L1428.1 875.1L1429.5 875.5L1431.0 875.8L1432.5 876.2L1433.9 876.6L1435.4 876.9L1436.9 877.3L1438.3 877.7L1439.8 878.0L1441.3 878.4L1442.7 878.7L1444.2 879.1L1445.6 879.4L1447.1 879.8L1448.6 880.1L1450.0 880.5L1451.5 880.8L1453.0 881.2L1454.4 881.5L1455.9 881.9L1457.4 882.2L1458.8 882.5L1460.3 882.9L1461.8 883.2L1463.2 883.5L1464.7 883.9L1466.2 884.2L1467.6 884.5L1469.1 884.9L1470.6 885.2L1472.0 885.5L1473.5 885.9L1475.0 886.2L1476.4 886.5L1477.9 886.8L1479.3 887.2L1480.8 887.5L1482.3 887.8L1483.7 888.1L1485.2 888.4L1486.7 888.8L1488.1 889.1L1489.6 889.4L1491.1 889.7L1492.5 890.0L1494.0 890.4L1495.5 890.7L1496.9 891.0L1498.4 891.3L1499.9 891.6L1501.3 891.9L1502.8 892.2L1504.2 892.6L1505.7 892.9L1507.2 893.2L1508.6 893.5L1510.1 893.8L1511.6 894.1L1513.0 894.4L1514.5 894.8L1516.0 895.1L1517.4 895.4L1518.9 895.7L1520.3 896.0L1521.8 896.3L1523.3 896.6L1524.7 897.0L1526.2 897.3L1527.7 897.6L1529.1 897.9L1530.6 898.2L1532.0 898.5L1533.5 898.9L1535.0 899.2L1536.4 899.5L1537.9 899.8L1539.3 900.1L1540.8 900.5L1542.3 900.8L1543.7 901.1L1545.2 901.4L1546.6 901.8L1548.1 902.1L1549.6 902.4L1551.0 902.7L1552.5 903.1L1553.9 903.4L1555.4 903.7L1556.8 904.0L1558.3 904.4L1559.8 904.7L1561.2 905.0L1562.7 905.4L1564.1 905.7L1565.6 906.1L1567.0 906.4L1568.5 906.7L1570.0 907.1L1571.4 907.4L1572.9 907.8L1574.3 908.1L1575.8 908.5L1577.2 908.8L1578.7 909.2L1580.1 909.5L1581.6 909.9L1583.0 910.2L1584.5 910.6L1585.9 911.0L1587.4 911.3L1588.8 911.7L1590.3 912.1L1591.7 912.4L1593.2 912.8L1594.6 913.2L1596.1 913.5L1597.5 913.9L1599.0 914.3L1600.4 914.7L1601.9 915.1L1603.3 915.4L1604.8 915.8L1606.2 916.2L1607.7 916.6L1609.1 917.0L1610.6 917.4L1612.0 917.8L1613.5 918.2L1614.9 918.6L1616.4 919.0L1617.8 919.4L1619.2 919.8L1620.7 920.3L1622.1 920.7L1623.6 921.1L1625.0 921.5L1626.5 922.0L1627.9 922.4L1629.3 922.8L1630.8 923.2L1632.2 923.7L1633.7 924.1L1635.1 924.6L1636.5 925.0L1638.0 925.5L1639.4 925.9L1640.8 926.4L1642.3 926.8L1643.7 927.3L1645.1 927.8L1646.6 928.2L1648.0 928.7L1649.4 929.2L1650.9 929.7L1652.3 930.2L1653.7 930.7L1655.2 931.1L1656.6 931.6L1658.0 932.1L1659.5 932.6L1660.9 933.1L1662.3 933.7L1663.8 934.2L1665.2 934.7L1666.6 935.2L1668.0 935.7L1669.5 936.3L1670.9 936.8L1672.3 937.3L1673.7 937.9L1675.2 938.4L1676.6 939.0L1678.0 939.5L1679.4 940.1L1680.8 940.7L1682.3 941.2L1683.7 941.8L1685.1 942.4L1686.5 943.0L1687.9 943.5L1689.3 944.1L1690.7 944.7L1692.1 945.3L1693.5 945.9L1695.0 946.5L1696.3 947.2L1697.7 947.8L1699.1 948.4L1700.5 949.0L1701.9 949.7L1703.3 950.3L1704.7 951.0L1706.1 951.6L1707.4 952.3L1708.8 952.9L1710.2 953.6L1711.5 954.3L1712.9 954.9L1714.3 955.6L1715.6 956.3L1717.0 957.0L1718.3 957.7L1719.7 958.4L1721.0 959.2L1722.3 959.9L1723.7 960.6L1725.0 961.3L1726.3 962.1L1727.6 962.8L1728.9 963.6L1730.2 964.3L1731.5 965.1L1732.8 965.9L1734.1 966.7L1735.4 967.4L1736.7 968.2L1737.9 969.0L1739.2 969.8L1740.5 970.7L1741.7 971.5L1743.0 972.3L1744.2 973.1L1745.4 974.0L1746.7 974.8L1747.9 975.7L1749.1 976.5L1750.3 977.4L1751.5 978.3L1752.7 979.2L1753.9 980.1L1755.1 981.0L1756.2 981.9L1757.4 982.8L1758.6 983.7L1759.7 984.7L1760.8 985.6L1762.0 986.6L1763.1 987.5L1764.2 988.5L1765.3 989.4L1766.4 990.4L1767.5 991.4L1768.6 992.4L1769.7 993.4L1770.7 994.4L1771.8 995.5L1772.9 996.5L1773.9 997.5L1774.9 998.6L1775.9 999.6L1777.0 1000.7L1778.0 1001.8L1778.9 1002.9L1779.9 1004.0L1780.9 1005.1L1781.9 1006.2L1782.8 1007.3L1783.8 1008.4L1784.7 1009.6L1785.6 1010.7L1786.5 1011.9L1787.4 1013.0L1788.3 1014.2L1789.2 1015.4L1790.1 1016.6L1791.0 1017.8L1791.8 1019.0L1792.7 1020.2L1793.5 1021.4L1794.3 1022.6L1795.1 1023.8L1795.9 1025.1L1796.7 1026.3L1797.5 1027.6L1798.3 1028.9L1799.1 1030.1L1799.9 1031.4L1800.6 1032.7L1801.4 1034.0L1802.1 1035.3L1802.8 1036.6L1803.5 1037.9L1804.3 1039.2L1805.0 1040.5L1805.6 1041.8L1806.3 1043.2L1807.0 1044.5L1807.7 1045.9L1808.3 1047.2L1809.0 1048.6L1809.6 1049.9L1810.2 1051.3L1810.9 1052.7L1811.5 1054.0L1812.1 1055.4L1812.7 1056.8L1813.3 1058.2L1813.9 1059.6L1814.4 1061.0L1815.0 1062.4L1815.6 1063.8L1816.1 1065.2L1816.6 1066.6L1817.2 1068.1L1817.7 1069.5L1818.2 1070.9L1818.7 1072.4L1819.2 1073.8L1819.7 1075.2L1820.2 1076.7L1820.7 1078.1L1821.1 1079.6L1821.6 1081.0L1822.0 1082.5L1822.5 1083.9L1822.9 1085.4L1823.4 1086.9L1823.8 1088.3L1824.2 1089.8L1824.6 1091.3L1825.0 1092.8L1825.4 1094.2L1825.8 1095.7L1826.2 1097.2L1826.5 1098.7L1826.9 1100.2L1827.2 1101.6L1827.6 1103.1L1827.9 1104.6L1828.3 1106.1L1828.6 1107.6L1828.9 1109.1L1829.2 1110.6L1829.5 1112.1L1829.8 1113.6L1830.1 1115.1L1830.4 1116.6L1830.7 1118.1L1830.9 1119.6L1831.2 1121.1L1831.5 1122.6L1831.7 1124.1L1832.0 1125.6L1832.2 1127.1L1832.4 1128.6L1832.6 1130.1L1832.9 1131.6L1833.1 1133.1L1833.3 1134.6L1833.5 1136.1L1833.7 1137.6L1833.9 1139.1L1834.0 1140.6L1834.2 1142.1L1834.4 1143.6L1834.6 1145.1L1834.7 1146.6L1834.9 1148.1L1835.0 1149.6L1835.2 1151.1L1835.3 1152.6L1835.5 1154.1L1835.6 1155.6L1835.8 1157.1L1835.9 1158.6L1836.0 1160.1L1836.1 1161.6L1836.3 1163.1L1836.4 1164.6L1836.5 1166.1L1836.6 1167.6L1836.7 1169.0L1836.9 1170.5L1837.0 1172.0L1837.1 1173.5L1837.2 1175.0L1837.3 1176.5L1837.4 1178.0L1837.5 1179.5L1837.6 1181.0L1837.7 1182.5L1837.8 1184.0L1837.9 1185.5L1838.0 1187.0L1838.1 1188.5L1838.2 1190.0L1838.3 1191.5L1838.4 1193.0L1838.5 1194.5L1838.6 1196.0L1838.7 1197.5L1838.8 1199.0L1838.9 1200.4L1839.0 1201.9L1839.1 1203.4L1839.2 1204.9L1839.3 1206.4L1839.4 1207.9L1839.5 1209.4L1839.6 1210.9L1839.7 1212.4L1839.8 1213.9L1840.0 1215.4L1840.1 1216.8L1840.2 1218.3L1840.3 1219.8L1840.5 1221.3L1840.6 1222.8L1840.7 1224.3L1840.9 1225.8L1841.0 1227.3L1841.2 1228.7L1841.3 1230.2L1841.5 1231.7L1841.7 1233.2L1841.8 1234.7L1842.0 1236.2L1842.2 1237.7L1842.3 1239.1L1842.5 1240.6L1842.7 1242.1L1842.9 1243.6L1843.1 1245.1L1843.3 1246.6L1843.6 1248.0L1843.8 1249.5L1844.0 1251.0L1844.2 1249.5L1844.3 1248.1L1844.5 1246.6L1844.6 1245.1L1844.8 1243.6L1844.9 1242.1L1845.1 1240.7L1845.2 1239.2L1845.4 1237.7L1845.5 1236.2L1845.7 1234.7L1845.8 1233.2L1845.9 1231.7L1846.1 1230.2L1846.2 1228.8L1846.3 1227.3L1846.5 1225.8L1846.6 1224.3L1846.7 1222.8L1846.9 1221.3L1847.0 1219.8L1847.1 1218.3L1847.2 1216.8L1847.4 1215.3L1847.5 1213.8L1847.6 1212.2L1847.7 1210.7L1847.8 1209.2L1848.0 1207.7L1848.1 1206.2L1848.2 1204.7L1848.3 1203.2L1848.4 1201.7L1848.5 1200.2L1848.7 1198.6L1848.8 1197.1L1848.9 1195.6L1849.0 1194.1L1849.1 1192.6L1849.2 1191.1L1849.4 1189.5L1849.5 1188.0L1849.6 1186.5L1849.7 1185.0L1849.8 1183.5L1849.9 1181.9L1850.0 1180.4L1850.2 1178.9L1850.3 1177.4L1850.4 1175.8L1850.5 1174.3L1850.6 1172.8L1850.8 1171.3L1850.9 1169.8L1851.0 1168.2L1851.1 1166.7L1851.3 1165.2L1851.4 1163.7L1851.5 1162.1L1851.6 1160.6L1851.8 1159.1L1851.9 1157.6L1852.0 1156.0L1852.2 1154.5L1852.3 1153.0L1852.4 1151.5L1852.6 1149.9L1852.7 1148.4L1852.9 1146.9L1853.0 1145.4L1853.2 1143.9L1853.3 1142.3L1853.5 1140.8L1853.6 1139.3L1853.8 1137.8L1853.9 1136.2L1854.1 1134.7L1854.3 1133.2L1854.4 1131.7L1854.6 1130.2L1854.8 1128.6L1855.0 1127.1L1855.1 1125.6L1855.3 1124.1L1855.5 1122.6L1855.7 1121.1L1855.9 1119.6L1856.1 1118.0L1856.3 1116.5L1856.5 1115.0L1856.7 1113.5L1856.9 1112.0L1857.1 1110.5L1857.3 1109.0L1857.5 1107.5L1857.8 1106.0L1858.0 1104.5L1858.2 1103.0L1858.4 1101.5L1858.7 1100.0L1858.9 1098.5L1859.2 1097.0L1859.4 1095.5L1859.7 1094.0L1859.9 1092.5L1860.2 1091.0L1860.5 1089.5L1860.7 1088.0L1861.0 1086.5L1861.3 1085.0L1861.6 1083.5L1861.9 1082.1L1862.2 1080.6L1862.5 1079.1L1862.8 1077.6L1863.1 1076.1L1863.4 1074.7L1863.7 1073.2L1864.0 1071.7L1864.4 1070.2L1864.7 1068.8L1865.0 1067.3L1865.4 1065.8L1865.8 1064.4L1866.1 1062.9L1866.5 1061.5L1866.8 1060.0L1867.2 1058.5L1867.6 1057.1L1868.0 1055.6L1868.4 1054.2L1868.8 1052.7L1869.2 1051.3L1869.6 1049.8L1870.0 1048.4L1870.4 1047.0L1870.9 1045.5L1871.3 1044.1L1871.8 1042.7L1872.2 1041.2L1872.7 1039.8L1873.1 1038.4L1873.6 1037.0L1874.1 1035.5L1874.6 1034.1L1875.1 1032.7L1875.6 1031.3L1876.1 1029.9L1876.6 1028.5L1877.1 1027.1L1877.6 1025.7L1878.2 1024.3L1878.7 1022.9L1879.3 1021.5L1879.8 1020.1L1880.4 1018.7L1881.0 1017.3L1881.6 1015.9L1882.1 1014.6L1882.7 1013.2L1883.3 1011.8L1884.0 1010.5L1884.6 1009.1L1885.2 1007.7L1885.9 1006.4L1886.5 1005.0L1887.2 1003.6L1887.8 1002.3L1888.5 1001.0L1889.2 999.6L1889.9 998.3L1890.6 996.9L1891.3 995.6L1892.0 994.3L1892.7 992.9L1893.5 991.6L1894.2 990.3L1895.0 989.0L1895.7 987.7L1896.5 986.3L1897.3 985.0L1898.1 983.7L1898.9 982.4L1899.7 981.1L1900.5 979.9L1901.3 978.6L1902.2 977.3L1903.0 976.0" stroke="#000" stroke-linecap="round"/>
<path d="M351.0 712.0L351.5 713.5L353.0 717.9L354.3 722.3L355.4 726.8L356.4 731.3L357.2 735.8M360.5 769.6L360.6 771.1L360.9 775.7L361.3 780.3L361.8 784.9L362.3 789.5L362.9 793.9M383.2 815.2L384.7 815.6L389.1 816.8L393.6 817.8L398.0 818.7L402.5 819.4L407.0 820.0L408.3 820.2M443.4 820.1L444.9 820.0L449.4 819.4L453.9 818.6L458.4 817.8L462.8 816.8L465.9 816.1M495.7 805.6L497.1 805.0L501.1 803.0L505.1 800.9L509.0 798.7L512.9 796.4L516.6 794.0M542.0 773.3L543.0 772.2L546.0 768.9L549.0 765.6L551.8 762.2L554.5 758.6L557.0 755.0L558.2 753.4M574.1 721.9L574.6 720.5L576.1 716.2L577.6 711.9L579.0 707.5L580.2 703.0L581.3 699.0M588.1 666.7L588.3 665.2L589.0 660.6L589.7 656.0L590.3 651.4L590.9 646.9L591.4 642.7M594.7 609.4L594.9 607.9L595.2 603.5L595.6 599.1L595.9 594.6L596.2 590.2L596.5 585.8L596.5 585.0M598.5 551.5L598.5 550.1L598.8 545.6L599.0 541.0L599.2 536.4L599.5 531.8L599.7 527.2L599.7 527.1M603.8 548.3L603.9 549.1L604.4 553.6L604.9 558.0L605.3 562.5L605.8 567.0L606.2 571.5L606.3 572.6M609.3 606.1L609.5 607.6L609.9 612.1L610.3 616.6L610.7 621.1L611.1 625.7L611.5 629.6M615.0 661.8L615.2 663.3L615.7 667.8L616.4 672.3L617.0 676.8L617.7 681.3L618.4 685.8L618.5 686.4M625.2 719.8L625.5 721.3L626.6 725.7L627.7 730.1L628.8 734.4L630.0 738.8L631.3 743.1L631.4 743.6M642.3 775.7L642.9 777.1L644.6 781.2L646.3 785.3L648.1 789.4L649.9 793.5L651.8 797.6L651.8 797.6M667.1 826.7L667.8 828.0L670.1 831.8L672.4 835.7L674.7 839.6L677.1 843.4L679.4 847.2L679.5 847.3M697.6 875.0L698.4 876.3L701.0 880.0L703.5 883.8L706.1 887.5L708.7 891.3L711.3 895.0L712.0 896.1M731.8 925.0L732.7 926.2L735.2 930.0L737.8 933.8L740.3 937.5L742.8 941.3L745.2 945.1L745.9 946.1M764.1 975.8L764.8 977.1L767.0 981.0L769.2 984.9L771.3 988.9L773.4 992.8L775.4 996.8L776.0 997.9M790.0 1029.4L790.5 1030.7L792.1 1034.9L793.5 1039.1L795.0 1043.4L796.3 1047.7L797.6 1051.9L798.0 1053.3M805.9 1087.1L806.2 1088.6L807.0 1093.1L807.8 1097.5L808.5 1102.0L809.1 1106.6L809.6 1109.9M813.1 1141.4L813.3 1142.9L813.6 1147.4L814.0 1152.0L814.3 1156.5L814.7 1161.1L815.0 1165.6L815.1 1167.3M817.0 1203.0L818.2 1201.9L821.1 1198.3L823.3 1194.5L824.9 1190.5L825.7 1187.2M826.7 1162.1L826.7 1160.6L826.9 1156.0L827.2 1151.5L827.6 1147.0L828.1 1142.5L828.6 1138.1L828.6 1137.5M832.9 1103.7L833.1 1102.3L833.7 1097.8L834.4 1093.3L835.1 1088.9L835.9 1084.4L836.7 1080.0M844.1 1047.7L844.5 1046.2L845.8 1041.9L847.2 1037.6L848.6 1033.3L850.2 1029.0L851.5 1025.4M864.6 995.9L865.3 994.5L867.4 990.5L869.6 986.6L871.9 982.7L874.2 978.8L875.8 976.2M893.9 950.8L894.8 949.6L897.7 946.1L900.5 942.7L903.5 939.3L906.4 936.0L909.4 932.6L911.2 930.7M937.1 905.1L938.2 904.1L941.6 901.0L944.9 898.0L948.3 895.0L951.7 892.0L955.2 889.0L955.2 888.9M980.7 867.4L981.9 866.5L985.4 863.6L988.9 860.7L992.5 857.8L996.0 854.9L999.5 852.0L1000.4 851.2M1027.3 828.5L1028.4 827.5L1031.9 824.6L1035.3 821.6L1038.6 818.6L1042.0 815.6L1045.3 812.5L1045.7 812.2M1070.1 788.6L1071.1 787.5L1074.2 784.3L1077.3 781.0L1080.3 777.7L1083.3 774.4L1086.2 771.0L1087.9 769.1M1110.0 740.4L1110.8 739.1L1113.3 735.4L1115.7 731.6L1118.1 727.8L1120.5 723.9L1122.7 720.0L1123.1 719.3M1138.2 688.6L1138.8 687.2L1140.5 683.0L1142.2 678.7L1143.7 674.5L1145.3 670.2L1146.7 665.8L1146.9 665.3M1155.3 632.2L1155.6 630.8L1156.3 626.4L1157.0 621.9L1157.7 617.5L1158.4 613.1L1159.2 608.7L1159.4 608.0M1167.1 575.2L1167.4 573.7L1168.0 569.2L1168.5 564.8L1168.9 560.3L1169.2 555.8L1169.4 551.2L1169.4 550.5M1170.6 516.5L1170.7 515.1L1171.1 510.7L1171.6 506.3L1172.2 502.0L1172.8 497.7L1173.3 494.5M1177.2 467.6L1177.3 469.0L1177.8 473.5L1178.2 478.0L1178.6 482.5L1178.9 487.0L1179.2 489.7M1181.3 520.1L1181.4 521.6L1181.8 526.1L1182.1 530.6L1182.4 535.1L1182.7 539.6L1183.1 544.0M1186.2 576.9L1186.3 578.4L1186.9 582.8L1187.5 587.3L1188.1 591.7L1188.7 596.2L1189.4 600.6L1189.6 601.3M1196.5 634.5L1196.9 636.0L1198.1 640.4L1199.3 644.7L1200.7 649.1L1202.0 653.5L1203.5 657.8L1203.5 657.8M1216.2 688.8L1216.8 690.2L1218.8 694.3L1220.9 698.3L1223.1 702.3L1225.3 706.3L1227.2 709.5M1245.7 735.9L1246.7 737.0L1249.6 740.4L1252.5 743.7L1255.6 747.0L1258.7 750.2L1261.9 753.2L1262.3 753.7M1288.4 774.6L1289.6 775.4L1293.3 777.9L1297.1 780.3L1300.9 782.6L1304.8 784.9L1308.7 787.2L1309.4 787.6M1339.9 802.5L1341.3 803.1L1345.5 804.9L1349.7 806.6L1354.0 808.3L1358.3 809.9L1362.6 811.5L1362.6 811.5M1394.4 822.2L1395.9 822.7L1400.2 824.0L1404.6 825.3L1409.0 826.5L1413.3 827.8L1417.7 829.0L1418.2 829.1M1451.1 837.6L1452.6 837.9L1456.9 839.0L1461.3 840.0L1465.7 841.0L1470.0 842.0L1474.4 843.0L1475.6 843.3M1509.4 850.6L1510.9 850.9L1515.2 851.9L1519.6 852.8L1524.0 853.7L1528.4 854.6L1530.4 855.1M1559.3 861.3L1560.8 861.6L1565.2 862.6L1569.7 863.5L1574.1 864.5L1578.5 865.6L1581.1 866.2M1610.9 873.5L1612.4 873.9L1616.7 875.1L1621.1 876.3L1625.4 877.6L1629.8 878.9L1634.1 880.2L1634.4 880.3M1665.7 892.7L1666.9 893.5L1670.6 895.9L1674.0 898.6L1677.3 901.5L1680.3 904.8L1682.2 907.2M1691.4 898.6L1691.4 897.0L1691.5 892.1L1691.6 887.3L1692.1 882.6L1693.0 878.1L1694.5 873.8L1694.9 873.0M1714.7 898.6L1715.8 899.7L1719.0 902.8L1722.3 905.8L1725.7 908.7L1729.2 911.6L1729.4 911.7M1751.4 927.6L1752.7 928.5L1756.5 931.1L1760.2 933.8L1764.0 936.4L1767.8 939.2L1770.9 941.6" stroke="#f00" stroke-linecap="round"/>
<path d="M600.0 521.0L603.0 540.0L605.5 560.0M1171.0 516.0L1172.0 491.0L1176.0 488.0L1177.0 466.0L1179.0 490.0M1792.5 957.0L1803.0 967.0M1825.0 973.5L1836.0 973.5M1842.5 998.0L1847.0 1017.0M1862.0 1005.0L1876.5 991.0M1883.5 991.0L1891.5 975.0" stroke="#f00" stroke-linecap="round"/>
<path d="M350.0 855.0L351.4 854.9L355.8 854.5L360.2 854.1L364.6 853.7L369.1 853.2L373.5 852.7L378.0 852.1L380.6 851.7M400.2 848.5L400.5 848.4L404.2 847.7M424.5 842.9L425.9 842.5L430.4 841.2L434.8 839.9L439.2 838.5L443.5 837.1L447.9 835.5L452.2 833.9L453.3 833.5M471.2 825.7L471.6 825.5L474.7 823.9M492.4 813.6L493.7 812.8L497.4 810.3L501.0 807.7L504.5 805.0L507.9 802.2L511.3 799.3L514.6 796.3L515.7 795.3M528.9 781.5L529.0 781.4L531.3 778.6M543.3 762.5L544.1 761.3L546.5 757.5L548.9 753.7L551.1 749.8L553.3 745.9L555.4 742.0L557.5 738.0L558.1 736.6M565.9 718.9L565.9 718.8L567.2 715.3M573.6 696.1L574.0 694.6L575.2 690.3L576.3 685.9L577.3 681.5L578.3 677.1L579.3 672.7L580.2 668.2L580.6 666.0M583.8 646.3L583.8 645.8L584.3 642.4M586.5 621.6L586.7 620.1L587.0 615.5L587.4 610.9L587.7 606.3L588.0 601.8L588.3 597.2L588.5 592.6L588.6 591.8M589.4 572.6L589.4 571.3L589.5 568.7M590.2 548.5L590.2 547.0L590.4 542.5L590.5 538.0L590.6 533.5L590.8 529.0L590.9 524.5L591.0 520.0L591.1 517.4M591.6 497.4L591.6 496.1L591.7 493.4M592.2 472.3L592.2 470.8L592.3 466.4L592.4 461.9L592.5 457.4L592.7 453.0L592.8 448.5L592.9 444.6M593.4 426.7L593.4 426.1L593.5 423.1M594.1 404.4L594.1 403.7L594.3 399.1L594.4 394.6L594.6 390.1L594.8 385.6L595.0 381.0L595.1 376.7M596.0 358.8L596.0 358.1L596.1 355.2M596.7 367.6L596.8 368.6L596.9 373.1L597.0 377.6L597.1 382.1L597.2 386.6L597.3 391.1L597.4 395.3M597.7 413.2L597.7 413.6L597.8 416.8M598.1 435.5L598.1 436.1L598.2 440.6L598.3 445.1L598.3 449.6L598.4 454.1L598.5 458.6L598.5 463.1L598.5 463.3M598.8 481.2L598.9 482.5L598.9 484.7M599.3 503.5L599.3 505.0L599.4 509.5L599.5 514.0L599.6 518.5L599.7 523.0L599.8 527.5L600.0 532.0L600.0 532.9M600.6 551.9L600.6 553.0L600.7 555.7M601.5 575.6L601.6 577.1L601.8 581.7L602.0 586.2L602.2 590.7L602.5 595.2L602.8 599.8L603.0 604.3L603.1 605.8M604.5 625.2L604.6 625.4L604.9 629.1M607.0 649.5L607.1 651.0L607.7 655.5L608.2 660.0L608.9 664.4L609.5 668.9L610.2 673.4L610.9 677.8L611.0 678.6M614.5 697.2L614.8 698.5L615.3 701.0M619.9 720.3L620.3 721.8L621.5 726.1L622.7 730.4L624.0 734.7L625.4 738.9L626.7 743.2L628.2 747.4L628.7 748.7M635.6 766.6L635.6 766.8L637.1 770.1M645.5 788.4L646.2 789.7L648.2 793.7L650.2 797.7L652.3 801.6L654.5 805.5L656.7 809.4L658.9 813.3L659.4 814.2M669.3 830.3L669.9 831.2L671.3 833.5M682.5 849.9L683.3 851.2L686.0 854.9L688.6 858.5L691.3 862.2L694.0 865.9L696.7 869.5L699.4 873.2L700.4 874.4M712.3 890.0L712.4 890.1L714.7 893.1M727.3 909.3L728.3 910.5L731.1 914.0L733.9 917.6L736.7 921.2L739.5 924.8L742.2 928.5L745.0 932.1L745.8 933.1M757.5 948.7L757.7 949.0L759.8 951.9M771.6 968.6L772.4 969.9L774.9 973.6L777.4 977.3L779.8 981.1L782.2 984.9L784.6 988.6L786.9 992.5L788.2 994.6M797.8 1012.0L798.4 1013.1L799.6 1015.5M808.4 1034.5L808.9 1035.9L810.6 1040.0L812.2 1044.1L813.7 1048.3L815.2 1052.5L816.5 1056.7L817.9 1060.9L818.4 1062.6M823.2 1081.2L823.6 1082.6L824.1 1085.0M828.0 1104.8L828.2 1106.3L829.0 1110.8L829.7 1115.3L830.4 1119.8L831.0 1124.3L831.6 1128.9L832.2 1133.4L832.3 1134.4M834.5 1153.5L834.6 1154.7L834.9 1157.4M836.9 1177.5L837.1 1179.1L837.5 1183.6L837.9 1188.2L838.4 1192.7L838.8 1197.2L839.3 1201.8L839.8 1206.3L839.9 1207.3M842.1 1226.5L842.2 1227.1L842.6 1230.4M845.8 1250.4L846.1 1251.8L846.9 1256.1L847.8 1260.4L848.7 1264.6L849.2 1263.1L849.5 1258.7L849.6 1257.3M850.6 1241.5L850.6 1241.1L850.7 1238.3M851.6 1221.7L851.7 1220.2L851.9 1215.6L852.1 1211.1L852.4 1206.6L852.6 1202.0L852.9 1197.5L853.1 1192.9L853.2 1191.9M854.5 1172.7L854.6 1171.6L854.8 1168.9M856.6 1148.8L856.7 1147.3L857.2 1142.7L857.8 1138.2L858.4 1133.7L859.0 1129.2L859.6 1124.7L860.3 1120.2L860.4 1119.5M863.8 1100.7L864.1 1099.4L864.6 1097.0M869.4 1077.6L869.8 1076.1L871.1 1071.8L872.4 1067.6L873.8 1063.3L875.2 1059.1L876.8 1055.0L878.4 1050.8L879.5 1047.8M887.8 1029.3L887.9 1029.2L889.6 1025.7M900.0 1007.1L900.7 1005.8L903.1 1002.0L905.5 998.3L907.9 994.6L910.4 990.9L913.0 987.2L915.1 984.3M925.8 970.3L926.5 969.4L928.0 967.5M940.2 953.5L941.2 952.4L944.2 949.1L947.3 945.8L950.4 942.5L953.6 939.2L956.8 936.0L960.0 932.8L961.1 931.6M975.1 918.0L975.2 918.0L977.9 915.3M992.8 901.2L994.0 900.2L997.3 897.0L1000.6 893.9L1003.9 890.8L1007.2 887.6L1010.5 884.5L1013.8 881.3L1015.3 879.9M1029.5 865.9L1030.1 865.3L1032.3 863.1M1046.8 847.9L1047.8 846.8L1050.8 843.5L1053.8 840.1L1056.8 836.7L1059.8 833.3L1062.7 829.9L1065.5 826.4L1066.8 824.9M1078.8 809.3L1079.2 808.7L1081.1 806.1M1092.5 788.9L1093.3 787.6L1095.6 783.8L1097.8 779.9L1100.1 776.0L1102.2 772.1L1104.3 768.1L1106.4 764.2L1107.6 761.8M1116.0 743.6L1116.4 742.5L1117.6 739.9M1125.0 720.2L1125.5 718.8L1126.9 714.6L1128.3 710.3L1129.6 706.0L1130.8 701.7L1132.0 697.3L1133.2 693.0L1133.6 691.5M1137.8 672.6L1137.9 672.5L1138.6 668.8M1142.1 648.8L1142.3 647.3L1142.9 642.8L1143.6 638.3L1144.2 633.8L1144.7 629.2L1145.2 624.7L1145.7 620.2L1145.8 619.9M1147.6 601.1L1147.6 600.5L1147.9 597.4M1149.3 577.7L1149.4 576.2L1149.7 571.6L1150.0 567.1L1150.3 562.5L1150.5 557.9L1150.8 553.4L1151.0 548.8L1151.0 548.7M1152.0 530.0L1152.1 529.2L1152.2 526.3M1153.4 506.7L1153.5 505.2L1153.7 500.7L1154.0 496.4M1154.5 489.7L1154.6 488.8L1154.6 488.4M1155.1 481.4L1155.2 480.0L1155.6 475.6L1156.0 471.2L1156.4 466.8L1156.8 462.4L1157.3 464.0L1157.3 464.2M1158.6 479.5L1158.7 480.3L1158.8 482.5M1159.9 498.6L1159.9 499.7L1160.2 504.2L1160.4 508.7L1160.6 513.2L1160.8 517.7L1161.0 522.2L1161.0 522.3M1161.7 537.6L1161.7 538.7L1161.8 540.6M1162.5 556.7L1162.6 558.2L1162.8 562.7L1163.0 567.2L1163.2 571.7L1163.5 576.2L1163.7 580.8L1164.0 585.3L1164.1 586.8M1165.5 606.2L1165.6 606.3L1165.9 610.1M1168.1 630.4L1168.3 631.9L1168.9 636.4L1169.5 640.9L1170.2 645.4L1170.9 649.9L1171.7 654.4L1172.5 658.8L1172.5 659.0M1176.4 677.3L1176.6 678.1L1177.3 680.9M1182.9 699.7L1183.4 701.1L1184.9 705.4L1186.4 709.6L1188.1 713.7L1189.8 717.8L1191.6 721.9L1193.5 726.0L1194.1 727.2M1203.3 744.1L1203.4 744.3L1205.3 747.3M1216.6 764.0L1217.5 765.2L1220.2 768.7L1223.0 772.2L1225.9 775.6L1228.8 779.0L1231.8 782.3L1234.8 785.6L1235.9 786.7M1249.6 800.0L1249.7 800.1L1252.5 802.6M1268.2 815.2L1269.4 816.1L1273.1 818.7L1276.7 821.3L1280.5 823.8L1284.2 826.2L1288.1 828.6L1291.9 830.9L1294.3 832.3M1312.1 841.9L1313.1 842.3L1315.7 843.6M1335.1 852.3L1336.5 852.8L1340.7 854.6L1344.9 856.2L1349.2 857.9L1353.5 859.5L1357.8 861.0L1362.1 862.5L1364.1 863.3M1383.1 869.5L1383.8 869.7L1386.9 870.7M1407.1 876.7L1408.6 877.1L1412.9 878.4L1417.3 879.6L1421.7 880.9L1426.0 882.1L1430.4 883.3L1434.8 884.5L1436.6 885.0M1455.6 890.1L1456.4 890.3L1459.4 891.1M1479.4 896.5L1480.9 896.8L1485.2 898.0L1489.5 899.1L1493.8 900.3L1498.1 901.4L1502.4 902.6L1506.7 903.7L1509.3 904.4M1528.6 909.6L1529.6 909.9L1532.4 910.6M1552.6 916.3L1554.0 916.7L1558.3 917.9L1562.6 919.1L1567.0 920.4L1571.3 921.6L1575.6 922.9L1580.0 924.2L1581.1 924.6M1599.4 930.2L1600.3 930.5L1603.0 931.3M1622.1 937.6L1623.6 938.1L1627.9 939.6L1632.3 941.1L1636.6 942.7L1640.9 944.3L1645.3 945.9L1649.5 947.6L1650.7 948.1M1668.8 955.8L1669.2 956.0L1672.4 957.5M1690.7 966.9L1692.0 967.7L1695.9 969.9L1699.7 972.2L1703.5 974.6L1707.2 977.0L1710.9 979.6L1714.5 982.1L1715.9 983.2M1730.8 995.6L1731.3 996.1L1733.6 998.3M1747.2 1013.3L1748.2 1014.4L1750.9 1017.9L1753.5 1021.4L1756.1 1025.0L1758.6 1028.7L1761.0 1032.4L1763.3 1036.2L1764.8 1038.7M1774.1 1056.4L1774.5 1057.2L1775.8 1060.1M1783.7 1079.5L1784.2 1080.9L1785.7 1085.3L1787.1 1089.6L1788.4 1093.9L1789.7 1098.3L1790.9 1102.7L1792.1 1107.2L1792.4 1108.6M1796.5 1127.8L1796.5 1128.0L1797.2 1131.7M1800.0 1152.0L1800.2 1153.6L1800.7 1158.1L1801.1 1162.6L1801.5 1167.1L1801.8 1171.7L1802.2 1176.2L1802.5 1180.7L1802.5 1181.5M1803.4 1200.6L1803.5 1201.9L1803.6 1204.4M1804.3 1224.5L1804.4 1226.0L1804.5 1230.5L1804.7 1235.0L1804.9 1239.5L1805.1 1244.0L1805.3 1248.5L1805.5 1251.9M1806.6 1269.6L1806.7 1270.8L1806.9 1273.2M1808.7 1282.3L1808.8 1281.1L1809.2 1276.6L1809.6 1272.2L1810.0 1267.7L1810.4 1263.2L1810.8 1258.8L1811.1 1254.9M1812.6 1237.3L1812.7 1236.3L1812.9 1233.7M1814.6 1215.2L1814.7 1213.7L1815.1 1209.2L1815.5 1204.6L1816.0 1200.1L1816.4 1195.6L1816.9 1191.1L1817.3 1186.5L1817.4 1185.7M1819.6 1166.6L1819.7 1165.4L1820.0 1162.8M1822.6 1142.9L1822.8 1141.4L1823.5 1136.9L1824.1 1132.4L1824.8 1127.9L1825.6 1123.4L1826.3 1119.0L1827.1 1114.5L1827.4 1112.5M1831.2 1093.0L1831.3 1092.3L1832.0 1089.2M1836.7 1068.9L1837.1 1067.4L1838.2 1063.1L1839.4 1058.8L1840.6 1054.4L1841.8 1050.1L1843.1 1045.8L1844.4 1041.5L1844.6 1040.8M1850.7 1022.9L1851.1 1021.8L1852.0 1019.4M1859.4 1001.0L1860.0 999.6L1861.8 995.5L1863.7 991.4L1865.6 987.4L1867.5 983.3L1869.6 979.3L1871.6 975.3L1871.9 974.9M1881.0 958.7L1881.3 958.3L1883.0 955.5M1893.8 939.2L1894.6 937.9L1897.4 934.2L1900.1 930.5L1902.0 928.0" stroke="#0f0" stroke-linecap="round"/>
<path d="M594.2 405.0L594.5 400.0L596.3 352.0L597.2 390.0M843.5 1252.0L849.0 1266.0M1805.2 1245.0L1808.3 1287.0L1811.1 1261.6" stroke="#0f0" stroke-linecap="round"/>
</g>
</svg>
</body></html>
